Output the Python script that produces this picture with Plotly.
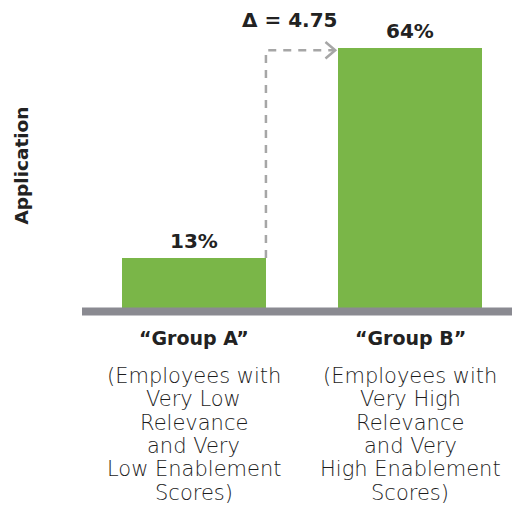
import plotly.graph_objects as go

categories = ["Group A", "Group B"]
values = [13, 64]
value_labels = ["13%", "64%"]
delta_label = "Δ = 4.75"
axis_title = "Application"
subtexts = [
    ["(Employees with", "Very Low", "Relevance", "and Very", "Low Enablement", "Scores)"],
    ["(Employees with", "Very High", "Relevance", "and Very", "High Enablement", "Scores)"],
]

GREEN = "#7ab648"
DARK = "#222222"
FONT = "DejaVu Sans"
W, H = 512, 505
ML, MR, MT, MB = 82, 0, 0, 185
plot_h = H - MT - MB
bar_w = 0.665
xs = [0, 1]

def py(px):
    # pixel row -> paper y
    return (H - MB - px) / plot_h

fig = go.Figure()
fig.add_trace(go.Bar(x=xs, y=values, width=bar_w, marker=dict(color=GREEN, line=dict(width=0)),
                     showlegend=False, hoverinfo="skip"))

# dashed connector from top of bar A to bar B
xa = xs[0] + bar_w / 2
ytop = values[1] - 0.6
xend = xs[1] - bar_w / 2 - 0.015
fig.add_shape(type="path", xref="x", yref="y",
              path=f"M {xa},{values[0]} L {xa},{ytop} L {xend},{ytop}",
              line=dict(color="#a6a6a6", width=2.5, dash="8px,7px"))
fig.add_shape(type="path", xref="x", yref="y",
              path=f"M {xend-0.045},{ytop+2.0} L {xend},{ytop} L {xend-0.045},{ytop-2.0}",
              line=dict(color="#a6a6a6", width=2.5))

# baseline
fig.add_shape(type="line", xref="paper", yref="y", x0=0, x1=1, y0=0, y1=0,
              line=dict(color="#8a8a91", width=8))

head_font = dict(family=FONT, size=20, color=DARK, weight="bold")
ann = []
for x, v, lab in zip(xs, values, value_labels):
    ann.append(dict(x=x, y=v, xref="x", yref="y", text=lab, showarrow=False,
                    yanchor="bottom", yshift=3, font=head_font))
ann.append(dict(x=(xa + xend) / 2 - 0.05, y=py(20), xref="x", yref="paper", text=delta_label,
                showarrow=False, yanchor="middle", font=head_font))
ann.append(dict(x=-0.143, y=py(166), xref="paper", yref="paper", text=axis_title, textangle=-90,
                showarrow=False, xanchor="center", yanchor="middle",
                font=dict(family=FONT, size=18.5, color=DARK, weight="bold")))
line_gap = 23.3
for x, c, lines in zip(xs, categories, subtexts):
    ann.append(dict(x=x, y=py(338), xref="x", yref="paper", text=f"“{c}”", showarrow=False,
                    yanchor="middle", font=dict(family=FONT, size=19, color=DARK, weight="bold")))
    for i, s in enumerate(lines):
        ann.append(dict(x=x, y=py(376 + i * line_gap), xref="x", yref="paper", text=s,
                        showarrow=False, yanchor="middle",
                        font=dict(family=FONT, size=21, color="#1c1c1c", weight=300)))

fig.update_layout(
    width=W, height=H, margin=dict(l=ML, r=MR, t=MT, b=MB),
    paper_bgcolor="white", plot_bgcolor="white",
    xaxis=dict(range=[-0.517, 1.469], visible=False, fixedrange=True),
    yaxis=dict(range=[-2.06, 75.6], visible=False, fixedrange=True),
    annotations=ann, bargap=0,
)
fig.write_html("out.html", config=dict(displayModeBar=False))
